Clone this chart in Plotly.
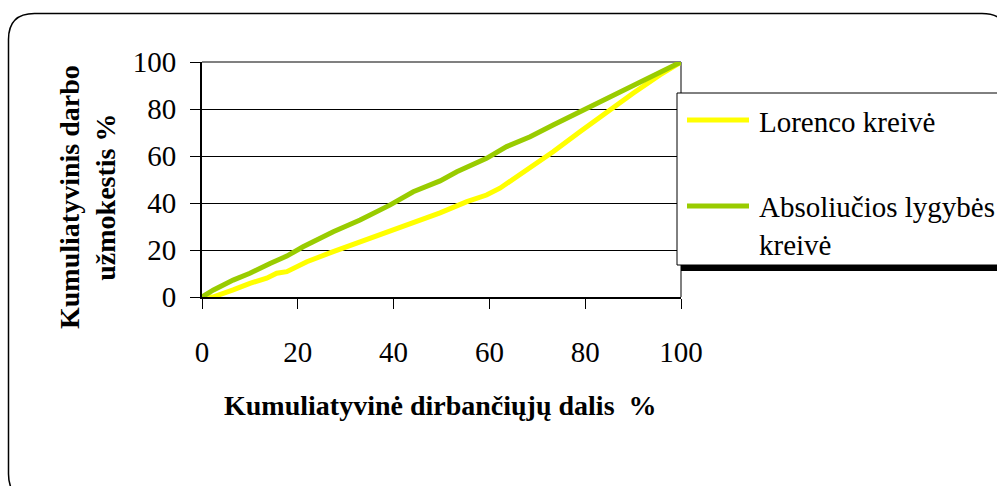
import plotly.graph_objects as go

# ---- data ----
lorenz_x = [0, 2.4, 6.5, 10, 13.5, 15.6, 17.7, 21.9, 27.4, 33, 38.6, 44.1, 49.7, 55.3, 59.4, 62.2, 68.5, 73.3, 78.9, 84.5, 90, 95.6, 100]
lorenz_y = [0, 0.1, 3, 5.8, 8, 10.1, 10.8, 15, 19.3, 23.5, 27.8, 32, 35.8, 40.6, 43.4, 46.3, 54.8, 61.8, 70.3, 78.9, 86.7, 94.5, 100]
equal_x = [0, 2.4, 6.5, 10, 14.2, 17.7, 21.1, 27.4, 33, 39.2, 44.1, 49.7, 53.2, 59.4, 63.6, 68.5, 73.3, 79.6, 84.5, 90, 95.6, 100]
equal_y = [0, 3.0, 7.2, 10.1, 14.3, 17.4, 21.4, 27.8, 32.8, 39.1, 44.8, 49.4, 53.3, 59, 64, 68.2, 73.2, 79.6, 84.6, 90.2, 95.9, 100]
tick_vals = [0, 20, 40, 60, 80, 100]
series_names = ["Lorenco kreivė", "Absoliučios lygybės<br>kreivė"]
x_title = "Kumuliatyvinė dirbančiųjų dalis  %"
y_title = "Kumuliatyvinis darbo<br>užmokestis %"

YELLOW = "#FFFF00"
GREEN = "#99CC00"
FONT = "Liberation Serif, Times New Roman, DejaVu Serif, serif"
FS = 28

W, H = 997, 486
L, R, T, B = 202, 681, 62, 297


def px(x):
    return (x - L) / (R - L)


def py(y):
    return (B - y) / (B - T)


fig = go.Figure()
fig.add_trace(go.Scatter(x=lorenz_x, y=lorenz_y, mode="lines", name=series_names[0],
                         line=dict(color=YELLOW, width=5), showlegend=False))
fig.add_trace(go.Scatter(x=equal_x, y=equal_y, mode="lines", name=series_names[1],
                         line=dict(color=GREEN, width=5), showlegend=False))

shapes = []
# outer rounded border
x0, y0, x1, y1, r = 8.5, 13.5, 1008, 500, 26
path = (f"M {px(x0):.5f},{py(y0 + r):.5f} Q {px(x0):.5f},{py(y0):.5f} {px(x0 + r):.5f},{py(y0):.5f} "
        f"L {px(x1 - r):.5f},{py(y0):.5f} Q {px(x1):.5f},{py(y0):.5f} {px(x1):.5f},{py(y0 + r):.5f} "
        f"L {px(x1):.5f},{py(y1 - r):.5f} Q {px(x1):.5f},{py(y1):.5f} {px(x1 - r):.5f},{py(y1):.5f} "
        f"L {px(x0 + r):.5f},{py(y1):.5f} Q {px(x0):.5f},{py(y1):.5f} {px(x0):.5f},{py(y1 - r):.5f} Z")
shapes.append(dict(type="path", xref="paper", yref="paper", path=path,
                   line=dict(color="black", width=1.5), layer="below"))
# plot area top/right border (gray)
shapes.append(dict(type="line", xref="paper", yref="paper", x0=0, x1=1, y0=1, y1=1,
                   line=dict(color="#808080", width=2), layer="below"))
shapes.append(dict(type="line", xref="paper", yref="paper", x0=1, x1=1, y0=0, y1=1,
                   line=dict(color="#808080", width=2), layer="below"))
# legend shadow and box
shapes.append(dict(type="rect", xref="paper", yref="paper", x0=px(681), x1=px(1010),
                   y0=py(271), y1=py(264), fillcolor="black", line=dict(width=0)))
shapes.append(dict(type="rect", xref="paper", yref="paper", x0=px(677), x1=px(1010),
                   y0=py(265), y1=py(93), fillcolor="white", line=dict(color="black", width=1)))
# legend samples
shapes.append(dict(type="line", xref="paper", yref="paper", x0=px(687), x1=px(749),
                   y0=py(120), y1=py(120), line=dict(color=YELLOW, width=5)))
shapes.append(dict(type="line", xref="paper", yref="paper", x0=px(687), x1=px(749),
                   y0=py(206), y1=py(206), line=dict(color=GREEN, width=5)))

annotations = [
    dict(text=series_names[0], xref="paper", yref="paper", x=px(757), y=py(122),
         xanchor="left", yanchor="middle", showarrow=False, align="left",
         font=dict(family=FONT, size=FS + 1)),
    dict(text=series_names[1], xref="paper", yref="paper", x=px(757), y=py(226),
         xanchor="left", yanchor="middle", showarrow=False, align="left",
         font=dict(family=FONT, size=FS + 1)),
    dict(text=f"<b>{y_title}</b>", xref="paper", yref="paper", x=px(87), y=py(197),
         xanchor="center", yanchor="middle", showarrow=False, textangle=-90,
         font=dict(family=FONT, size=FS)),
    dict(text=f"<b>{x_title}</b>", xref="paper", yref="paper", x=px(440), y=py(405),
         xanchor="center", yanchor="middle", showarrow=False,
         font=dict(family=FONT, size=FS)),
]

fig.update_layout(
    width=W, height=H,
    margin=dict(l=L, r=W - R, t=T, b=H - B, pad=0),
    paper_bgcolor="white", plot_bgcolor="white",
    shapes=shapes, annotations=annotations,
    font=dict(family=FONT, color="black"),
    xaxis=dict(range=[0, 100], tickvals=tick_vals, ticks="outside", ticklen=10,
               tickcolor="black", tickwidth=1, showline=True, linecolor="black",
               linewidth=1.5, showgrid=False, zeroline=False, ticklabelstandoff=18,
               tickfont=dict(family=FONT, size=FS + 1)),
    yaxis=dict(range=[0, 100], tickvals=tick_vals, ticks="outside", ticklen=10,
               tickcolor="black", tickwidth=1, showline=True, linecolor="black",
               linewidth=2, showgrid=True, gridcolor="black", gridwidth=1,
               zeroline=False, ticklabelstandoff=8,
               tickfont=dict(family=FONT, size=FS + 1)),
    showlegend=False,
)

fig.write_html("out.html")
